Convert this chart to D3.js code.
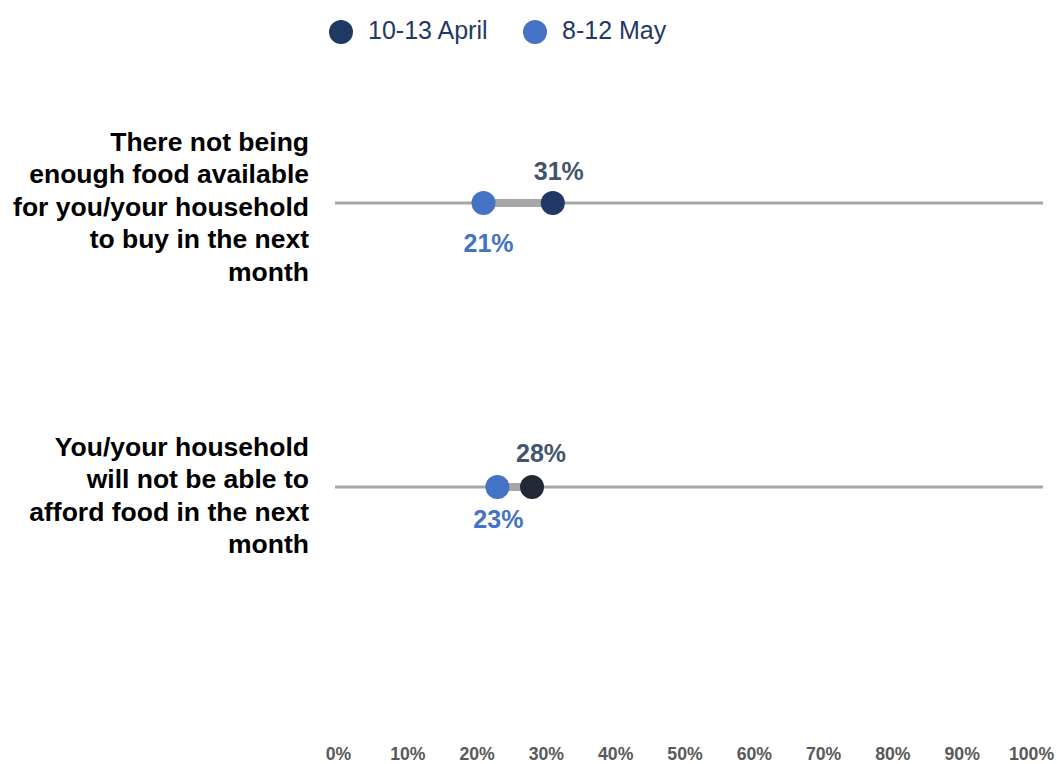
<!DOCTYPE html>
<html>
<head>
<meta charset="utf-8">
<script src="https://cdn.jsdelivr.net/npm/d3@7"></script>
<style>
  html, body { margin: 0; padding: 0; background: #ffffff; }
  svg { display: block; font-family: "Liberation Sans", Arial, sans-serif; }
</style>
</head>
<body>
<svg id="chart" width="1057" height="764"></svg>
<script>
// Survey items (label lines) and the share answering, per fieldwork wave
const categories = [
  ["There not being", "enough food available", "for you/your household", "to buy in the next", "month"],
  ["You/your household", "will not be able to", "afford food in the next", "month"]
];
const seriesNames = ["10-13 April", "8-12 May"];
const aprilValues = [31, 28];
const mayValues = [21, 23];
const tickValues = [0, 10, 20, 30, 40, 50, 60, 70, 80, 90, 100];

const svg = d3.select("#chart");

const x = d3.scaleLinear().domain([0, 100]).range([338, 1031]);
const y = d3.scalePoint().domain(d3.range(categories.length)).range([203, 487]);

const aprilDotColors = ["#1f3864", "#232a36"];
const mayColor = "#4472c4";
const aprilLabelColor = "#44546a";

// Per-row placement of the value labels (dx, dy from the dot)
const aprilLabelNudge = [[6, -23], [9, -25]];
const mayLabelNudge = [[5, 49], [1, 41]];

// Legend
const legend = svg.append("g");
const legendItems = [
  { name: seriesNames[0], color: "#1f3864", cx: 341 },
  { name: seriesNames[1], color: mayColor, cx: 535 }
];
legendItems.forEach(d => {
  legend.append("circle").attr("cx", d.cx).attr("cy", 32).attr("r", 12).attr("fill", d.color);
  legend.append("text").attr("x", d.cx + 27).attr("y", 39)
    .attr("font-size", 25).attr("fill", "#1f3864").text(d.name);
});

// Category labels, right aligned
categories.forEach((lines, i) => {
  const lh = 32.4;
  const t = svg.append("text").attr("text-anchor", "end")
    .attr("font-size", 26.5).attr("font-weight", "bold").attr("fill", "#000");
  const top = i === 0 ? 151 : 456;
  lines.forEach((ln, j) => {
    t.append("tspan").attr("x", 309).attr("y", top + j * lh).text(ln);
  });
});

// Background track per row
const rows = svg.append("g");
categories.forEach((_, i) => {
  rows.append("line")
    .attr("x1", x(0) - 3).attr("x2", 1043)
    .attr("y1", y(i)).attr("y2", y(i))
    .attr("stroke", "#a6a6a6").attr("stroke-width", 3);
  // connector between the two waves
  rows.append("line")
    .attr("x1", x(Math.min(aprilValues[i], mayValues[i])))
    .attr("x2", x(Math.max(aprilValues[i], mayValues[i])))
    .attr("y1", y(i)).attr("y2", y(i))
    .attr("stroke", "#a6a6a6").attr("stroke-width", 8);
});

// Dots and value labels
categories.forEach((_, i) => {
  rows.append("circle").attr("cx", x(mayValues[i])).attr("cy", y(i)).attr("r", 12).attr("fill", mayColor);
  rows.append("circle").attr("cx", x(aprilValues[i])).attr("cy", y(i)).attr("r", 12).attr("fill", aprilDotColors[i]);
  rows.append("text").attr("x", x(aprilValues[i]) + aprilLabelNudge[i][0]).attr("y", y(i) + aprilLabelNudge[i][1])
    .attr("text-anchor", "middle").attr("font-size", 25).attr("font-weight", "bold")
    .attr("fill", aprilLabelColor).text(aprilValues[i] + "%");
  rows.append("text").attr("x", x(mayValues[i]) + mayLabelNudge[i][0]).attr("y", y(i) + mayLabelNudge[i][1])
    .attr("text-anchor", "middle").attr("font-size", 25).attr("font-weight", "bold")
    .attr("fill", mayColor).text(mayValues[i] + "%");
});

// Bottom axis labels
const axis = d3.axisBottom(x).tickValues(tickValues).tickFormat(d => d + "%").tickSize(0).tickPadding(0);
const ag = svg.append("g").attr("transform", "translate(0,760)").call(axis);
ag.select(".domain").remove();
ag.selectAll("text").attr("font-size", 19).attr("font-weight", "bold")
  .attr("fill", "#595959").attr("font-family", "'Liberation Sans', Arial, sans-serif")
  .attr("dy", 0).attr("y", 0).attr("x", 0)
  .attr("transform", "scale(0.93,1)");
</script>
</body>
</html>
